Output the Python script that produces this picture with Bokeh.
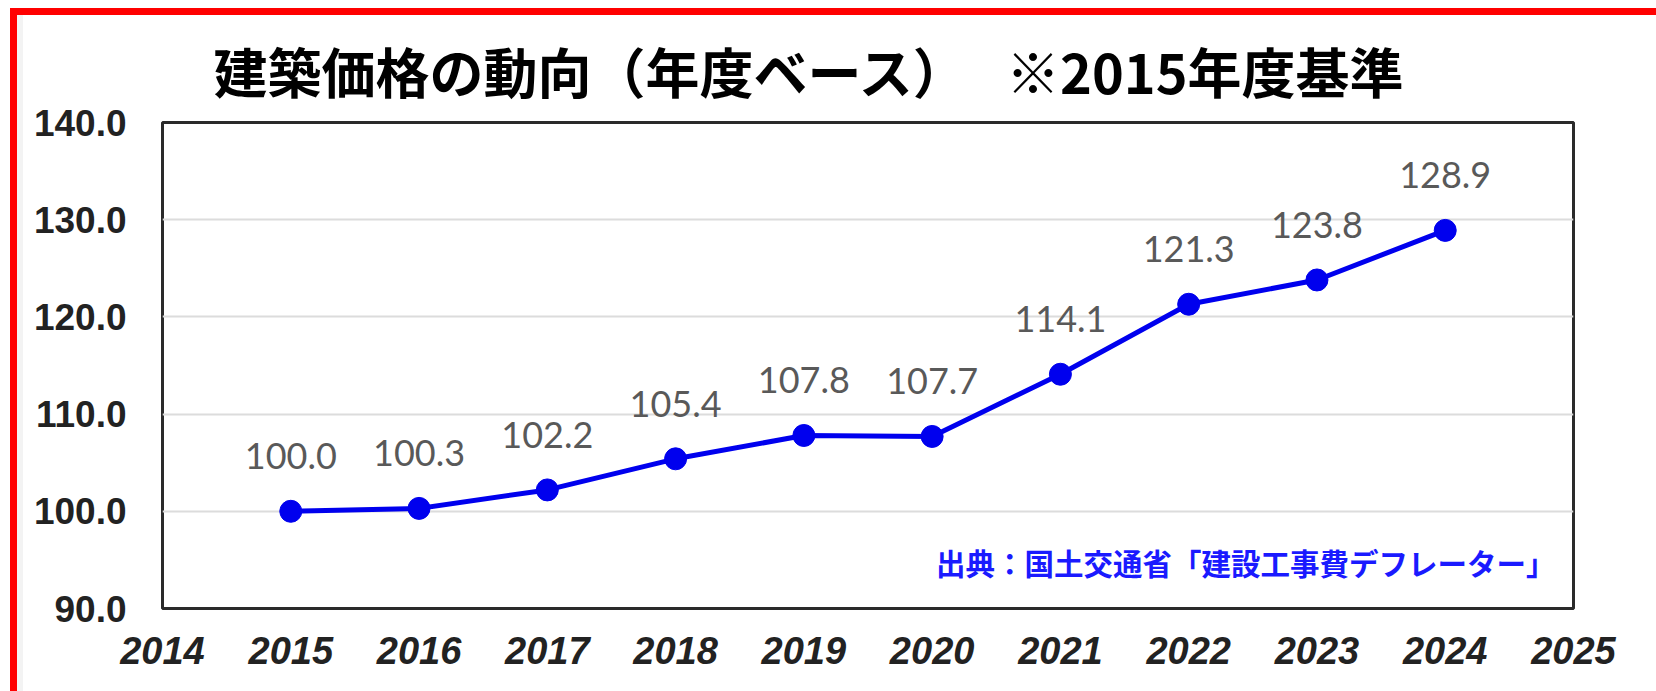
from bokeh.plotting import figure
from bokeh.models import Label, FixedTicker, ColumnDataSource, Range1d, CustomJSTickFormatter
from bokeh.core.properties import value
from bokeh.embed import file_html
from bokeh.resources import INLINE

years = [2015, 2016, 2017, 2018, 2019, 2020, 2021, 2022, 2023, 2024]
index_values = [100.0, 100.3, 102.2, 105.4, 107.8, 107.7, 114.1, 121.3, 123.8, 128.9]
x_ticks = list(range(2014, 2026))
y_ticks = [90, 100, 110, 120, 130, 140]
title_text = "建築価格の動向（年度ベース）　  ※2015年度基準"
source_text = "出典：国土交通省「建設工事費デフレーター」"

src = ColumnDataSource(dict(x=years, y=index_values,
                            label=[f"{v:.1f}" for v in index_values]))

p = figure(width=1656, height=691, output_backend="svg", toolbar_location=None,
           x_range=Range1d(2014, 2025), y_range=Range1d(90, 140),
           min_border_left=162, min_border_right=83, min_border_top=122,
           min_border_bottom=83)

p.background_fill_color = "white"
p.border_fill_color = None
p.outline_line_color = "#2a2a2a"
p.outline_line_width = 3

p.xgrid.grid_line_color = None
p.ygrid.grid_line_color = "#dcdcdc"
p.ygrid.grid_line_width = 2

axis_font = "'Liberation Sans', sans-serif"

p.xaxis.ticker = FixedTicker(ticks=x_ticks)
p.yaxis.ticker = FixedTicker(ticks=y_ticks)
p.yaxis.formatter = CustomJSTickFormatter(code="return tick.toFixed(1);")
for ax in (p.xaxis, p.yaxis):
    ax.axis_line_color = None
    ax.major_tick_line_color = None
    ax.minor_tick_line_color = None
    ax.major_tick_out = 0
    ax.major_tick_in = 0
    ax.major_label_text_font = axis_font
    ax.major_label_text_font_style = "bold"
    ax.major_label_text_color = "#222222"
p.xaxis.major_label_text_font_size = "38px"
p.xaxis.major_label_text_font_style = "bold italic"
p.xaxis.major_label_standoff = 28
p.yaxis.major_label_text_font_size = "37px"
p.yaxis.major_label_standoff = 36

p.line("x", "y", source=src, line_color="#0000ee", line_width=5)
p.scatter("x", "y", source=src, size=22, fill_color="#0000ee", line_color="#0000ee")
p.text("x", "y", text="label", source=src, y_offset=-55,
       text_align="center", text_baseline="alphabetic",
       text_font=value("Lato"), text_font_size="36px", text_color="#595959")

p.title.text = title_text
p.title.text_font = "Noto Sans CJK JP"
p.title.text_font_size = "54px"
p.title.text_font_style = "bold"
p.title.text_color = "black"
p.title.align = "left"
p.title.offset = 51
p.title.standoff = 25

p.add_layout(Label(x=2024.86, y=94.8, text=source_text, text_align="right",
                   text_baseline="middle", text_font="Noto Sans CJK JP",
                   text_font_size="29.5px", text_font_style="bold",
                   text_color="#1a1aff"))

p.styles = {"box-shadow": "inset 10px 8px 0 0 white, inset 17px 15px 0 0 red, inset 23px 0 0 0 #f3f3f3"}

open("out.html", "w").write(file_html(p, INLINE))
